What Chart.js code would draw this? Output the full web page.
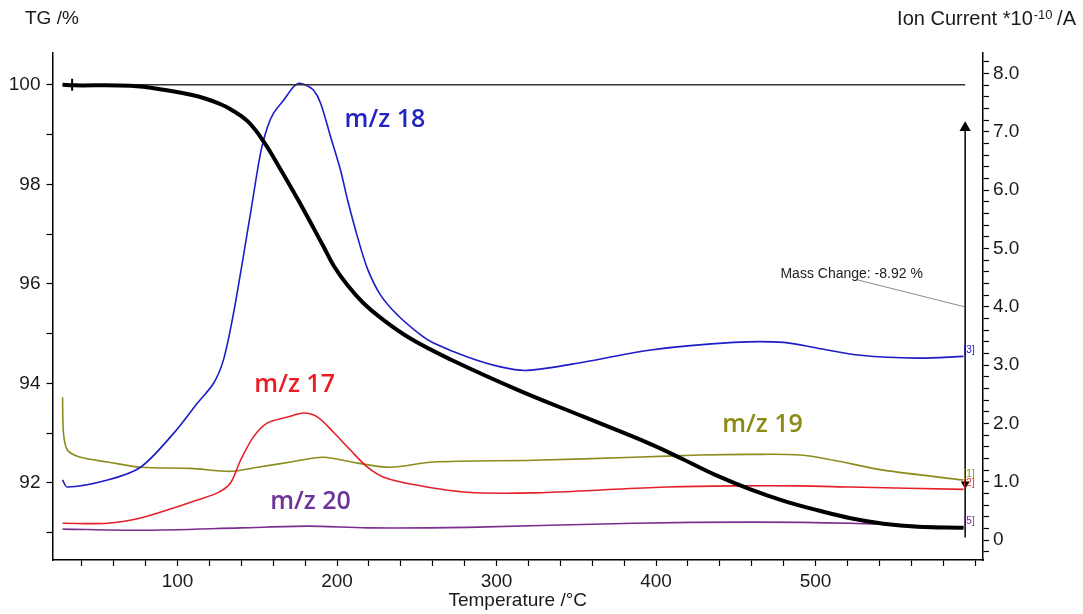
<!DOCTYPE html>
<html>
<head>
<meta charset="utf-8">
<script src="https://cdn.jsdelivr.net/npm/chart.js@4.4.1/dist/chart.umd.min.js"></script>
<style>
  html, body { margin: 0; padding: 0; background: #fff; }
</style>
</head>
<body>
<canvas id="tgChart" width="1083" height="614"></canvas>
<script>
// TG curve, mass in %
const tgTemp = [27.9, 34.2, 70.5, 91.2, 112.5, 127, 133.2, 143.9, 154, 164.6, 175.2, 185.3, 191.5, 197.8, 206.6, 216.6, 228, 246, 271.2, 313.2, 354.5, 396.6, 417.2, 438.6, 459.2, 480, 501.3, 522, 542.6, 564, 592.8];
const tgMass = [100.0, 99.99, 99.98, 99.9, 99.77, 99.61, 99.51, 99.27, 98.86, 98.3, 97.71, 97.12, 96.75, 96.37, 95.97, 95.61, 95.3, 94.9, 94.48, 93.87, 93.33, 92.78, 92.47, 92.14, 91.87, 91.64, 91.45, 91.29, 91.18, 91.12, 91.1];

// ion currents, *10^-10 A
const mz18Temp = [27.9, 31, 56.1, 76.8, 97.5, 112.5, 122.6, 128.8, 135.1, 145.8, 152, 156.4, 160.2, 166.5, 172.7, 176, 180.3, 185.3, 189.7, 196, 202.2, 206.6, 212.9, 219.1, 227.3, 237.9, 252.4, 260.5, 281.8, 302.5, 319.4, 354.5, 396.6, 448.6, 480, 501.3, 528.2, 564, 592.8];
const mz18Current = [1.03, 0.91, 1.03, 1.25, 1.83, 2.35, 2.69, 3.09, 3.89, 5.61, 6.63, 7.08, 7.32, 7.54, 7.77, 7.83, 7.8, 7.71, 7.49, 6.91, 6.34, 5.83, 5.19, 4.65, 4.2, 3.86, 3.52, 3.38, 3.14, 2.97, 2.91, 3.05, 3.26, 3.39, 3.39, 3.29, 3.17, 3.12, 3.15];

const mz17Temp = [27.9, 56.1, 76.8, 97.5, 112.5, 125.1, 133.2, 139.5, 147.6, 156.4, 169, 179, 187.8, 197.8, 208.5, 219.1, 229.2, 250.5, 281.8, 323.2, 365.2, 407.2, 448.6, 490.6, 522, 592.8];
const mz17Current = [0.29, 0.29, 0.38, 0.55, 0.69, 0.81, 0.98, 1.37, 1.77, 2.01, 2.11, 2.18, 2.11, 1.85, 1.54, 1.25, 1.08, 0.94, 0.82, 0.81, 0.86, 0.91, 0.93, 0.93, 0.91, 0.87];

const mz19Temp = [27.9, 28.5, 31, 39.2, 56.1, 76.8, 108.2, 133.2, 150.2, 171, 191.5, 212.9, 233.5, 260.5, 323.2, 386, 427.9, 459.2, 490.6, 511.3, 542.6, 592.8];
const mz19Current = [2.45, 1.83, 1.54, 1.42, 1.34, 1.25, 1.23, 1.18, 1.25, 1.34, 1.42, 1.32, 1.25, 1.34, 1.37, 1.42, 1.46, 1.47, 1.46, 1.37, 1.2, 1.03];

const mz20Temp = [27.9, 76.8, 139.5, 181.5, 219.1, 281.8, 386, 459.2, 522, 592.8];
const mz20Current = [0.19, 0.17, 0.21, 0.24, 0.21, 0.22, 0.29, 0.31, 0.29, 0.22];

const tempTicks = [100, 200, 300, 400, 500];
const tgTicks = [92, 94, 96, 98, 100];
const ionTicks = [0, 1, 2, 3, 4, 5, 6, 7, 8];
const massChange = -8.92;

const toPoints = (xs, ys) => xs.map((t, i) => ({ x: t, y: ys[i] }));

const ionSeries = [
  { name: 'm/z 18', tag: '[3]', temp: mz18Temp, values: mz18Current, line: '#1c1cc8', text: '#2323c4', at: [230, 7.2] },
  { name: 'm/z 17', tag: '[2]', temp: mz17Temp, values: mz17Current, line: '#e5202a', text: '#ec1c24', at: [173.4, 2.66] },
  { name: 'm/z 19', tag: '[1]', temp: mz19Temp, values: mz19Current, line: '#8c8c1e', text: '#8a8a14', at: [466.8, 1.97] },
  { name: 'm/z 20', tag: '[5]', temp: mz20Temp, values: mz20Current, line: '#7a2e8e', text: '#6c3399', at: [183.4, 0.65] }
];

const tEnd = tgTemp[tgTemp.length - 1];

const datasets = [
  {
    label: 'TG',
    data: toPoints(tgTemp, tgMass),
    yAxisID: 'yTG',
    borderColor: '#000',
    borderWidth: 4,
    pointRadius: 0,
    tension: 0.4
  },
  {
    label: 'markers',
    data: [{ x: tgTemp[0] + 6, y: tgMass[0] }],
    yAxisID: 'yTG',
    showLine: false,
    pointStyle: 'cross',
    pointRadius: 6,
    borderWidth: 2,
    borderColor: '#000'
  },
  {
    label: 'step',
    data: [{ x: tEnd + 1, y: 99.14 }, { x: tEnd + 1, y: 91.98 }, { x: tEnd + 1, y: 90.9 }],
    yAxisID: 'yTG',
    borderColor: '#000',
    borderWidth: 1.5,
    backgroundColor: '#000',
    pointStyle: 'triangle',
    rotation: [0, 180, 0],
    pointRadius: [5, 3.5, 0]
  },
  {
    label: 'ref100',
    data: [{ x: tgTemp[0], y: 100 }, { x: tEnd + 1, y: 100 }],
    yAxisID: 'yTG',
    borderColor: '#333',
    borderWidth: 1.5,
    pointRadius: 0
  },
  {
    label: 'leader',
    data: [{ x: 526.3, y: 96.08 }, { x: tEnd + 0.5, y: 95.54 }],
    yAxisID: 'yTG',
    borderColor: '#8a8a8a',
    borderWidth: 1,
    pointRadius: 0
  }
].concat(ionSeries.map(s => ({
  label: s.name,
  data: toPoints(s.temp, s.values),
  yAxisID: 'yIon',
  borderColor: s.line,
  borderWidth: 1.6,
  pointRadius: 0,
  tension: 0.3
})));

const tickFont = { family: '"Liberation Sans", Arial, sans-serif', size: 19 };

const textLayer = {
  id: 'textLayer',
  afterDatasetsDraw(chart) {
    const { ctx, scales } = chart;
    const sx = scales.x, sTG = scales.yTG, sIon = scales.yIon;
    ctx.save();
    ctx.textBaseline = 'middle';

    // curve names
    ctx.font = '600 25px "Open Sans", sans-serif';
    ctx.textAlign = 'center';
    ionSeries.forEach(s => {
      ctx.fillStyle = s.text;
      ctx.fillText(s.name, sx.getPixelForValue(s.at[0]), sIon.getPixelForValue(s.at[1]));
    });

    // small end tags
    ctx.font = '10px "Liberation Sans", Arial, sans-serif';
    ctx.textAlign = 'left';
    ionSeries.forEach(s => {
      ctx.fillStyle = s.line;
      const v = s.values[s.values.length - 1];
      ctx.fillText(s.tag, sx.getPixelForValue(tEnd), sIon.getPixelForValue(v) - 6);
    });

    // mass change note
    ctx.font = '14px "Liberation Sans", Arial, sans-serif';
    ctx.fillStyle = '#222';
    ctx.fillText('Mass Change: ' + massChange.toFixed(2) + ' %', sx.getPixelForValue(478), sTG.getPixelForValue(96.2));

    // axis titles
    ctx.font = '19px "Liberation Sans", Arial, sans-serif';
    ctx.fillStyle = '#1a1a1a';
    ctx.textAlign = 'left';
    ctx.fillText('TG /%', 25, 19);

    const partA = 'Ion Current *10', partB = '-10', partC = ' /A';
    ctx.font = '20px "Liberation Sans", Arial, sans-serif';
    const wA = ctx.measureText(partA).width, wC = ctx.measureText(partC).width;
    ctx.font = '13px "Liberation Sans", Arial, sans-serif';
    const wB = ctx.measureText(partB).width;
    const xStart = 1076 - (wA + wB + wC);
    ctx.font = '20px "Liberation Sans", Arial, sans-serif';
    ctx.fillText(partA, xStart, 19);
    ctx.font = '13px "Liberation Sans", Arial, sans-serif';
    ctx.fillText(partB, xStart + wA + 1, 15);
    ctx.font = '20px "Liberation Sans", Arial, sans-serif';
    ctx.fillText(partC, xStart + wA + wB, 19);

    ctx.font = '19px "Liberation Sans", Arial, sans-serif';
    ctx.textAlign = 'center';
    ctx.fillText('Temperature /\u00B0C', (chart.chartArea.left + chart.chartArea.right) / 2, 601);
    ctx.restore();
  }
};

const axisLook = {
  border: { display: true, color: '#000', width: 1.5 },
  grid: { drawOnChartArea: false, drawTicks: true, tickLength: 6, tickColor: '#000', tickWidth: 1.2 }
};

new Chart(document.getElementById('tgChart'), {
  type: 'line',
  data: { datasets: datasets },
  options: {
    responsive: false,
    animation: false,
    layout: { padding: { top: 53, left: 0, right: 0, bottom: 0 } },
    plugins: { legend: { display: false }, tooltip: { enabled: false } },
    scales: {
      x: {
        type: 'linear',
        position: 'bottom',
        min: 21.6,
        max: 605,
        ...axisLook,
        ticks: {
          font: tickFont, color: '#1a1a1a', padding: 4, autoSkip: false, maxRotation: 0,
          callback: v => tempTicks.includes(v) ? String(v) : ''
        },
        afterBuildTicks: s => {
          const t = [];
          for (let v = 40; v <= 600; v += 20) t.push({ value: v });
          s.ticks = t;
        },
        afterFit: s => { s.height = 54; }
      },
      yTG: {
        type: 'linear',
        position: 'left',
        min: 90.45,
        max: 100.64,
        ...axisLook,
        ticks: {
          font: tickFont, color: '#1a1a1a', padding: 6, autoSkip: false,
          callback: v => tgTicks.includes(v) ? String(v) : ''
        },
        afterBuildTicks: s => {
          const t = [];
          for (let v = 91; v <= 100; v++) t.push({ value: v });
          s.ticks = t;
        },
        afterFit: s => { s.width = 52.5; }
      },
      yIon: {
        type: 'linear',
        position: 'right',
        min: -0.34,
        max: 8.35,
        ...axisLook,
        ticks: {
          font: tickFont, color: '#1a1a1a', padding: 4, autoSkip: false,
          callback: v => ionTicks.includes(v) ? (v === 0 ? '0' : v.toFixed(1)) : ''
        },
        afterBuildTicks: s => {
          const t = [];
          for (let i = -1; i <= 41; i++) t.push({ value: Math.round(i * 2) / 10 });
          s.ticks = t;
        },
        afterFit: s => { s.width = 100; }
      }
    }
  },
  plugins: [textLayer]
});
</script>
</body>
</html>
